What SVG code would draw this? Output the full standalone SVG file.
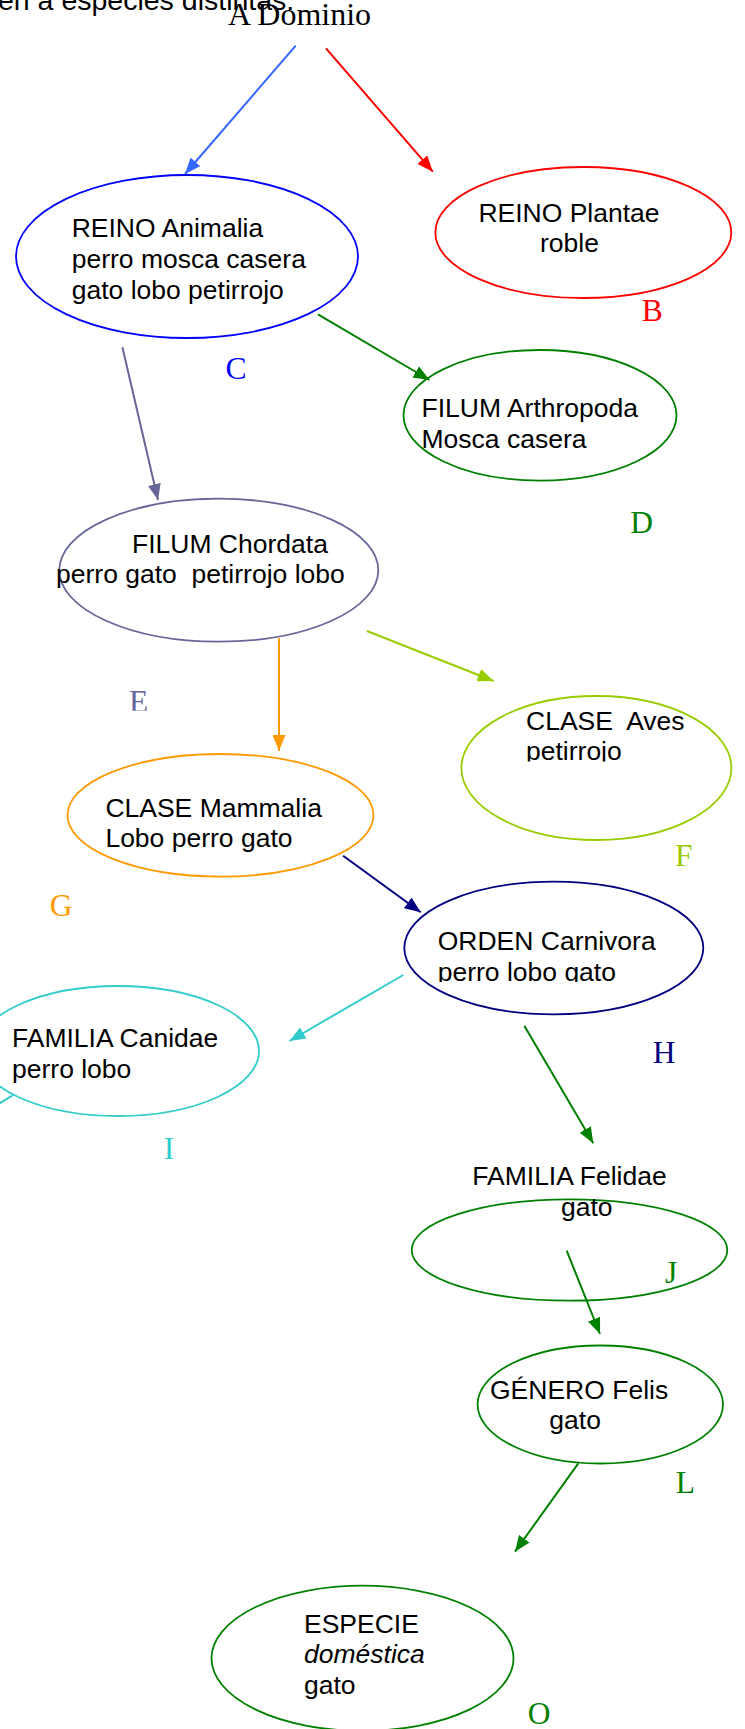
<svg xmlns="http://www.w3.org/2000/svg" width="745" height="1729" viewBox="0 0 745 1729">
<style>
.t{font-family:"Liberation Sans",Arial,sans-serif;font-size:26.5px;fill:#000}
.lb{font-family:"Liberation Serif","Times New Roman",serif;font-size:31.5px}
.e{fill:none;stroke-width:1.8}
.c{fill:none;stroke-width:2}
</style>
<defs>
<marker id="mBl" viewBox="0 0 16 13" refX="16" refY="6.5" markerWidth="16" markerHeight="13" markerUnits="userSpaceOnUse" orient="auto"><path d="M0,0 L16,6.5 L0,13 z" fill="#3366FF"/></marker>
<marker id="mR" viewBox="0 0 16 13" refX="16" refY="6.5" markerWidth="16" markerHeight="13" markerUnits="userSpaceOnUse" orient="auto"><path d="M0,0 L16,6.5 L0,13 z" fill="#FF0000"/></marker>
<marker id="mG" viewBox="0 0 16 13" refX="16" refY="6.5" markerWidth="16" markerHeight="13" markerUnits="userSpaceOnUse" orient="auto"><path d="M0,0 L16,6.5 L0,13 z" fill="#008000"/></marker>
<marker id="mP" viewBox="0 0 16 13" refX="16" refY="6.5" markerWidth="16" markerHeight="13" markerUnits="userSpaceOnUse" orient="auto"><path d="M0,0 L16,6.5 L0,13 z" fill="#666699"/></marker>
<marker id="mO" viewBox="0 0 16 13" refX="16" refY="6.5" markerWidth="16" markerHeight="13" markerUnits="userSpaceOnUse" orient="auto"><path d="M0,0 L16,6.5 L0,13 z" fill="#FF9900"/></marker>
<marker id="mY" viewBox="0 0 16 13" refX="16" refY="6.5" markerWidth="16" markerHeight="13" markerUnits="userSpaceOnUse" orient="auto"><path d="M0,0 L16,6.5 L0,13 z" fill="#99CC00"/></marker>
<marker id="mN" viewBox="0 0 16 13" refX="16" refY="6.5" markerWidth="16" markerHeight="13" markerUnits="userSpaceOnUse" orient="auto"><path d="M0,0 L16,6.5 L0,13 z" fill="#000080"/></marker>
<marker id="mC" viewBox="0 0 16 13" refX="16" refY="6.5" markerWidth="16" markerHeight="13" markerUnits="userSpaceOnUse" orient="auto"><path d="M0,0 L16,6.5 L0,13 z" fill="#33CCCC"/></marker>
<clipPath id="clAves"><rect x="400" y="690" width="345" height="71.5"/></clipPath>
<clipPath id="clOrden"><rect x="400" y="880" width="345" height="102"/></clipPath>
<clipPath id="clE"><rect x="100" y="670" width="80" height="40.8"/></clipPath>
</defs>
<rect width="745" height="1729" fill="#fff"/>

<text class="t" x="-2" y="9.5" style="font-size:28.5px">en a especies distintas.</text>

<g id="dominio"><text class="lb" x="228" y="25" style="font-size:31px" fill="#000" textLength="143" lengthAdjust="spacingAndGlyphs">A Dominio</text></g>

<g id="connectors">
<line class="c" x1="295.7" y1="45.7" x2="185" y2="174" stroke="#3366FF" marker-end="url(#mBl)"/>
<line class="c" x1="326" y1="48.3" x2="432.8" y2="171.7" stroke="#FF0000" marker-end="url(#mR)"/>
<line class="c" x1="318" y1="314.3" x2="429.5" y2="380" stroke="#008000" marker-end="url(#mG)"/>
<line class="c" x1="122.4" y1="347.3" x2="158" y2="500" stroke="#666699" marker-end="url(#mP)"/>
<line class="c" x1="279" y1="638.3" x2="279" y2="751" stroke="#FF9900" marker-end="url(#mO)"/>
<line class="c" x1="366.9" y1="631" x2="493.6" y2="681" stroke="#99CC00" marker-end="url(#mY)"/>
<line class="c" x1="343.1" y1="855.7" x2="420.7" y2="912.3" stroke="#000080" marker-end="url(#mN)"/>
<line class="c" x1="403.3" y1="975" x2="289.5" y2="1041" stroke="#33CCCC" marker-end="url(#mC)"/>
<line class="c" x1="13.3" y1="1095" x2="-10" y2="1109" stroke="#33CCCC"/>
<line class="c" x1="524.3" y1="1025.7" x2="593.3" y2="1143.3" stroke="#008000" marker-end="url(#mG)"/>
<line class="c" x1="566.7" y1="1250.7" x2="600" y2="1334" stroke="#008000" marker-end="url(#mG)"/>
<line class="c" x1="578.3" y1="1463.3" x2="515" y2="1551.7" stroke="#008000" marker-end="url(#mG)"/>
</g>

<g id="animalia">
<ellipse class="e" cx="187" cy="256.5" rx="171" ry="81.5" stroke="#0000FF"/>
<text class="t" x="71.7" y="236.5">REINO Animalia</text>
<text class="t" x="71.7" y="268">perro mosca casera</text>
<text class="t" x="71.7" y="298.5">gato lobo petirrojo</text>
<text class="lb" x="225.4" y="379.3" fill="#0000FF">C</text>
</g>

<g id="plantae">
<ellipse class="e" cx="583.3" cy="232.5" rx="148" ry="65.5" stroke="#FF0000"/>
<text class="t" x="478.4" y="221.7">REINO Plantae</text>
<text class="t" x="540" y="251.7">roble</text>
<text class="lb" x="641.7" y="320.7" fill="#FF0000">B</text>
</g>

<g id="arthropoda">
<ellipse class="e" cx="540" cy="415.3" rx="136.5" ry="65.3" stroke="#008000"/>
<text class="t" x="421.5" y="417">FILUM Arthropoda</text>
<text class="t" x="421.5" y="448">Mosca casera</text>
<text class="lb" x="630.3" y="532.7" fill="#008000">D</text>
</g>

<g id="chordata">
<ellipse class="e" cx="218.8" cy="570.2" rx="159.5" ry="71.5" stroke="#666699"/>
<text class="t" x="132" y="553.3">FILUM Chordata</text>
<text class="t" x="56" y="583.3" xml:space="preserve">perro gato  petirrojo lobo</text>
<text class="lb" x="129" y="711.7" fill="#666699" clip-path="url(#clE)">E</text>
</g>

<g id="aves">
<ellipse class="e" cx="596.4" cy="768" rx="135" ry="72" stroke="#99CC00"/>
<text class="t" x="526" y="730" xml:space="preserve">CLASE  Aves</text>
<text class="t" x="526" y="760" clip-path="url(#clAves)">petirrojo</text>
<text class="lb" x="674.9" y="865.7" fill="#99CC00">F</text>
</g>

<g id="mammalia">
<ellipse class="e" cx="220.5" cy="815.3" rx="153" ry="61.3" stroke="#FF9900"/>
<text class="t" x="105.4" y="816.7">CLASE Mammalia</text>
<text class="t" x="105.4" y="847.3">Lobo perro gato</text>
<text class="lb" x="49.8" y="916" fill="#FF9900">G</text>
</g>

<g id="orden">
<ellipse class="e" cx="553.8" cy="948" rx="149.5" ry="66.3" stroke="#000080"/>
<text class="t" x="437.7" y="950">ORDEN Carnivora</text>
<text class="t" x="437.7" y="981" clip-path="url(#clOrden)">perro lobo gato</text>
<text class="lb" x="652.7" y="1062.7" fill="#000080">H</text>
</g>

<g id="canidae">
<ellipse class="e" cx="118" cy="1051" rx="141" ry="65" stroke="#33CCCC"/>
<text class="t" x="12" y="1046.7">FAMILIA Canidae</text>
<text class="t" x="12" y="1078.3">perro lobo</text>
<text class="lb" x="163.7" y="1159.3" fill="#33CCCC">I</text>
</g>

<g id="felidae">
<ellipse class="e" cx="569.5" cy="1250" rx="157.8" ry="50.7" stroke="#008000"/>
<text class="t" x="472.3" y="1185">FAMILIA Felidae</text>
<text class="t" x="561" y="1216">gato</text>
<text class="lb" x="665" y="1283.3" fill="#008000">J</text>
</g>

<g id="genero">
<ellipse class="e" cx="600.3" cy="1404.5" rx="122.7" ry="59" stroke="#008000"/>
<text class="t" x="490" y="1399">GÉNERO Felis</text>
<text class="t" x="549.3" y="1429">gato</text>
<text class="lb" x="675.7" y="1493.3" fill="#008000">L</text>
</g>

<g id="especie">
<ellipse class="e" cx="362.5" cy="1658.3" rx="151" ry="72.6" stroke="#008000"/>
<text class="t" x="304" y="1633.3">ESPECIE</text>
<text class="t" x="304" y="1663.3" font-style="italic">doméstica</text>
<text class="t" x="304" y="1694">gato</text>
<text class="lb" x="527.7" y="1724.3" fill="#008000">O</text>
</g>
</svg>
